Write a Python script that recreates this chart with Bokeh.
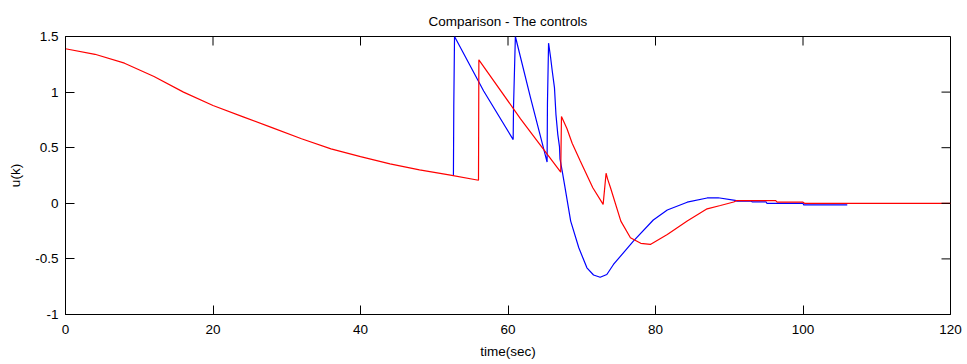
import math
from bokeh.plotting import figure
from bokeh.models import Range1d, FixedTicker
from bokeh.embed import file_html
from bokeh.resources import INLINE

# ---- data ----
red_t = [0, 4, 8, 12, 16, 20, 24, 28, 32, 36, 40, 44, 48, 52, 56.0,
         56.05, 61.7, 67.15,
         67.25, 68.0, 68.7, 69.8, 71.5, 72.9,
         73.3, 73.5, 73.9, 75.3, 76.6, 78.0, 79.3, 81.6, 84.3, 87.0, 88.8,
         90.6, 91.0, 96.3, 96.5, 100.0, 100.2, 120]
red_u = [1.39, 1.34, 1.26, 1.14, 1.00, 0.88, 0.78, 0.68, 0.58, 0.49, 0.42, 0.355, 0.30, 0.255, 0.207,
         1.29, 0.76, 0.28,
         0.78, 0.67, 0.54, 0.38, 0.14, -0.01,
         0.27, 0.22, 0.14, -0.16, -0.31, -0.36, -0.37, -0.28, -0.16, -0.05, -0.02,
         0.012, 0.024, 0.024, 0.01, 0.01, 0.0, 0.0]

blue_t = [52.6, 52.65, 52.75, 56.7, 60.7,
          60.75, 61.0, 63.05, 65.3,
          65.35, 65.5, 65.76, 66.0, 66.3, 66.5, 66.75, 66.98, 67.05, 67.35, 67.66,
          68.5, 69.6, 70.7, 71.6, 72.5, 73.4, 74.3, 77.0, 79.7, 81.6, 84.3, 87.0, 88.5,
          90.8, 91.0, 93.0, 93.1, 95.0, 95.1, 100.0, 100.1, 106.0]
blue_u = [0.245, 0.87, 1.5, 1.01, 0.573,
          0.87, 1.5, 0.95, 0.371,
          0.90, 1.44, 1.32, 1.19, 1.04, 0.80, 0.62, 0.51, 0.40, 0.29, 0.17,
          -0.16, -0.40, -0.58, -0.645, -0.665, -0.64, -0.55, -0.34, -0.15, -0.06, 0.01, 0.048, 0.05,
          0.027, 0.02, 0.02, 0.012, 0.012, 0.0, 0.0, -0.015, -0.015]

x_ticks = [0, 20, 40, 60, 80, 100, 120]
y_ticks = [-1, -0.5, 0, 0.5, 1, 1.5]
y_tick_labels = {-1: "-1", -0.5: "-0.5", 0: "0", 0.5: "0.5", 1: "1", 1.5: "1.5"}

X0, X1 = 0, 120
Y0, Y1 = -1, 1.5
FONT = "Liberation Sans"
FS = "13.5px"

p = figure(frame_width=885, frame_height=278,
           x_range=Range1d(X0, X1), y_range=Range1d(Y0, Y1),
           output_backend="svg", toolbar_location=None,
           title="Comparison - The controls",
           min_border_left=65, min_border_right=15, min_border_top=36, min_border_bottom=48,
           background_fill_color="white", border_fill_color="white")

p.title.align = "center"
p.title.text_font = FONT
p.title.text_font_size = FS
p.title.text_font_style = "normal"
p.title.text_color = "black"
p.title.standoff = 15

p.grid.visible = False
p.outline_line_color = "black"
p.outline_line_width = 1

p.line(blue_t, blue_u, line_color="#0000FF", line_width=1.2)
p.line(red_t, red_u, line_color="#FF0000", line_width=1.2)

# inward ticks on the top and right frame edges (MATLAB box style)
p.ray(x=x_ticks, y=[Y1] * len(x_ticks), length=9, length_units="screen",
      angle=-math.pi / 2, line_color="black", line_width=1)
p.ray(x=[X1] * len(y_ticks), y=y_ticks, length=9, length_units="screen",
      angle=math.pi, line_color="black", line_width=1)

def style(ax, ticks):
    ax.ticker = FixedTicker(ticks=ticks)
    ax.major_tick_in = 9
    ax.major_tick_out = 0
    ax.minor_tick_in = 0
    ax.minor_tick_out = 0
    ax.axis_line_color = "black"
    ax.major_tick_line_color = "black"
    ax.major_label_text_font = FONT
    ax.major_label_text_font_size = FS
    ax.major_label_text_color = "black"
    ax.axis_label_text_font = FONT
    ax.axis_label_text_font_size = FS
    ax.axis_label_text_font_style = "normal"
    ax.axis_label_text_color = "black"

xa = p.xaxis[0]
style(xa, x_ticks)
xa.axis_label = "time(sec)"
xa.major_label_standoff = 10
xa.axis_label_standoff = 7

ya = p.yaxis[0]
style(ya, y_ticks)
ya.axis_label = "u(k)"
ya.major_label_overrides = y_tick_labels
ya.major_label_standoff = 7
ya.axis_label_standoff = 9

open("out.html", "w").write(file_html(p, INLINE))
